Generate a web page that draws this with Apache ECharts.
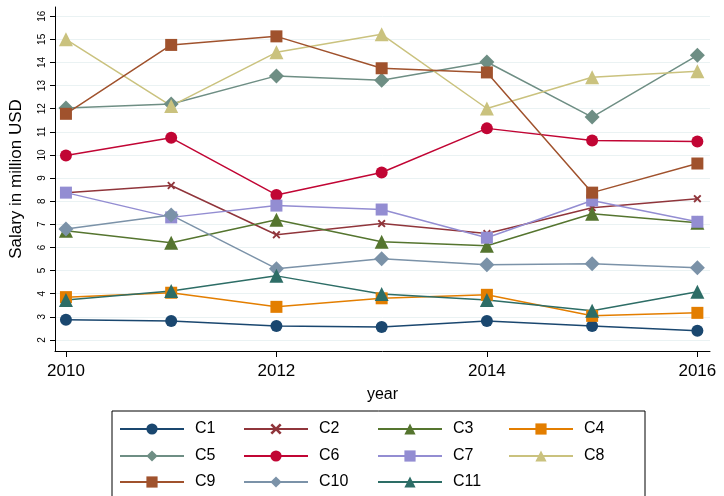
<!DOCTYPE html>
<html><head><meta charset="utf-8">
<script src="https://cdn.jsdelivr.net/npm/echarts@6/dist/echarts.min.js"></script>
<style>html,body{margin:0;background:#fff}#c{width:724px;height:496px}</style>
</head><body><div id="c"></div>
<script>
var years = [2010, 2011, 2012, 2013, 2014, 2015, 2016];
var names = ['C1','C2','C3','C4','C5','C6','C7','C8','C9','C10','C11'];
var c1 = [2.87, 2.82, 2.6, 2.56, 2.82, 2.6, 2.4];
var c2 = [8.37, 8.68, 6.55, 7.03, 6.6, 7.72, 8.11];
var c3 = [6.72, 6.2, 7.2, 6.25, 6.07, 7.46, 7.07];
var c4 = [3.85, 4.04, 3.43, 3.8, 3.95, 3.04, 3.17];
var c5 = [12.03, 12.2, 13.42, 13.23, 14.02, 11.64, 14.31];
var c6 = [9.98, 10.74, 8.27, 9.24, 11.15, 10.63, 10.58];
var c7 = [8.37, 7.3, 7.81, 7.64, 6.42, 8.03, 7.11];
var c8 = [15.0, 12.12, 14.44, 15.22, 12.01, 13.36, 13.62];
var c9 = [11.78, 14.76, 15.13, 13.75, 13.57, 8.37, 9.63];
var c10 = [6.8, 7.4, 5.08, 5.51, 5.25, 5.29, 5.12];
var c11 = [3.73, 4.12, 4.77, 3.99, 3.73, 3.26, 4.08];
var values = [c1,c2,c3,c4,c5,c6,c7,c8,c9,c10,c11];
var colors = ['#1a476f','#90353b','#55752f','#e37e00','#6e8e84','#c10534','#938dd2','#cac27e','#a0522d','#7b92a8','#2d6d66'];
var symbols = ['circle','cross','triangle','rect','diamond','circle','rect','triangle','rect','diamond','triangle'];
var xTicks = [2010, 2012, 2014, 2016];
var yTicks = [2,3,4,5,6,7,8,9,10,11,12,13,14,15,16];

var crossPath = 'path://M0,0L2,2L4,0L5,1L3,3L5,5L4,6L2,4L0,6L-1,5L1,3L-1,1Z';
var chart = echarts.init(document.getElementById('c'));
var series = names.map(function(n, i){
  var s = symbols[i];
  return {
    name: n, type: 'line', color: colors[i],
    symbol: s === 'cross' ? crossPath : s,
    symbolSize: s === 'cross' ? 8 : (s === 'diamond' ? 15 : (s === 'triangle' ? 14 : 12)),
    lineStyle: {width: 1.5},
    itemStyle: {color: colors[i]},
    data: values[i].map(function(v, k){ return [years[k], v]; })
  };
});

var colLeft = [119, 243, 377, 508];
var rowTop = [421, 448, 474];
var legends = names.map(function(n, i){
  return {
    data: [n], left: colLeft[i % 4], top: rowTop[Math.floor(i / 4)],
    itemWidth: 64, itemHeight: 14, itemGap: 0, padding: 0,
    textStyle: {fontSize: 16, color: '#000', fontFamily: 'Liberation Sans', padding: [0, 0, 0, 6]}
  };
});

chart.setOption({
  animation: false,
  grid: {left: 53, right: 14, top: 7, bottom: 145},
  legend: legends,
  graphic: [{type: 'rect', shape: {x: 112, y: 411, width: 533, height: 90},
    style: {fill: 'none', stroke: '#000', lineWidth: 1}}],
  xAxis: {
    type: 'value', min: 2009.896, max: 2016.12,
    name: 'year', nameLocation: 'middle', nameGap: 36,
    nameTextStyle: {fontSize: 16, color: '#000', fontFamily: 'Liberation Sans'},
    axisLine: {lineStyle: {color: '#000'}},
    axisTick: {customValues: xTicks, length: 6, lineStyle: {color: '#000'}},
    axisLabel: {customValues: xTicks, fontSize: 17, color: '#000', margin: 12,
      fontFamily: 'Liberation Sans', formatter: function(v){ return String(v); }},
    splitLine: {show: false}
  },
  yAxis: {
    type: 'value', min: 1.52, max: 16.4,
    name: 'Salary in million USD', nameLocation: 'middle', nameGap: 30,
    nameTextStyle: {fontSize: 17, color: '#000', fontFamily: 'Liberation Sans'},
    axisLine: {show: true, lineStyle: {color: '#000'}},
    axisTick: {show: true, customValues: yTicks, length: 5, lineStyle: {color: '#000'}},
    axisLabel: {customValues: yTicks, rotate: 90, fontSize: 10, color: '#000', margin: 8, fontFamily: 'Liberation Sans'},
    splitLine: {show: true, customValues: yTicks, lineStyle: {color: '#eaf2f3', width: 1}}
  },
  series: series
});
</script></body></html>
